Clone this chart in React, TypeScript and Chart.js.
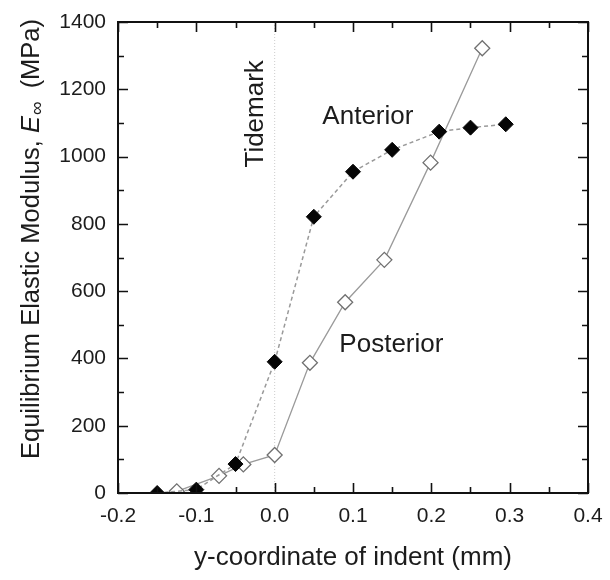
import React, { useEffect, useRef } from "react";
import { Chart, registerables } from "chart.js";

Chart.register(...registerables);

// ---- data ----
const anteriorX = [-0.15, -0.1, -0.05, 0.0, 0.05, 0.1, 0.15, 0.21, 0.25, 0.295];
const anteriorY = [0, 10, 86, 390, 821, 955, 1020, 1074, 1086, 1096];
const posteriorX = [-0.125, -0.071, -0.04, 0.0, 0.045, 0.09, 0.14, 0.199, 0.265];
const posteriorY = [5, 51, 85, 113, 387, 567, 693, 982, 1322];

const xMajorTicks = [-0.2, -0.1, 0.0, 0.1, 0.2, 0.3, 0.4];
const xMinorTicks = [-0.15, -0.05, 0.05, 0.15, 0.25, 0.35];
const yMajorTicks = [0, 200, 400, 600, 800, 1000, 1200, 1400];
const yMinorTicks = [100, 300, 500, 700, 900, 1100, 1300];

const tidemarkX = 0.0;
const annotationTexts = ["Anterior", "Posterior", "Tidemark"];
const annotationX = [0.119, 0.149, -0.024];
const annotationY = [1118, 440, 1127];
const annotationRotated = [false, false, true];

const xTitle = "y-coordinate of indent (mm)";
const yTitleMain = "Equilibrium Elastic Modulus, ";
const yTitleSymbol = "E";
const yTitleSub = "\u221E";
const yTitleUnit = "  (MPa)";

const FONT = "'Liberation Sans', Arial, Helvetica, sans-serif";
const TEXT = "#1c1c1c";

const decorPlugin = {
  id: "decor",
  beforeDatasetsDraw(chart: any) {
    const { ctx, chartArea, scales } = chart;
    const px = scales.x.getPixelForValue(tidemarkX);
    ctx.save();
    ctx.strokeStyle = "#cccccc";
    ctx.lineWidth = 1;
    ctx.setLineDash([1, 2]);
    ctx.beginPath();
    ctx.moveTo(px, chartArea.top);
    ctx.lineTo(px, chartArea.bottom);
    ctx.stroke();
    ctx.restore();
  },
  afterDatasetsDraw(chart: any) {
    const { ctx, chartArea, scales } = chart;
    const { left, right, top, bottom } = chartArea;
    const xs = scales.x;
    const ys = scales.y;
    ctx.save();
    ctx.strokeStyle = "#111";
    ctx.lineWidth = 1.6;
    ctx.setLineDash([]);
    const drawX = (vals: number[], len: number) => {
      vals.forEach((v) => {
        const p = Math.round(xs.getPixelForValue(v)) + 0.5;
        ctx.beginPath();
        ctx.moveTo(p, bottom);
        ctx.lineTo(p, bottom - len);
        ctx.moveTo(p, top);
        ctx.lineTo(p, top + len);
        ctx.stroke();
      });
    };
    const drawY = (vals: number[], len: number) => {
      vals.forEach((v) => {
        const p = Math.round(ys.getPixelForValue(v)) + 0.5;
        ctx.beginPath();
        ctx.moveTo(left, p);
        ctx.lineTo(left + len, p);
        ctx.moveTo(right, p);
        ctx.lineTo(right - len, p);
        ctx.stroke();
      });
    };
    drawX(xMajorTicks, 10);
    drawX(xMinorTicks, 6);
    drawY(yMajorTicks, 10);
    drawY(yMinorTicks, 6);
    ctx.lineWidth = 2;
    ctx.strokeRect(left, top, right - left, bottom - top);

    ctx.fillStyle = TEXT;
    ctx.font = `26px ${FONT}`;
    ctx.textAlign = "center";
    ctx.textBaseline = "middle";
    annotationTexts.forEach((t, i) => {
      const ax = xs.getPixelForValue(annotationX[i]);
      const ay = ys.getPixelForValue(annotationY[i]);
      ctx.save();
      ctx.translate(ax, ay);
      if (annotationRotated[i]) ctx.rotate(-Math.PI / 2);
      ctx.fillText(t, 0, 0);
      ctx.restore();
    });

    const mainFont = `25.5px ${FONT}`;
    const italFont = `italic 25.5px ${FONT}`;
    const subFont = `19px ${FONT}`;
    ctx.font = mainFont;
    const w1 = ctx.measureText(yTitleMain).width;
    const w4 = ctx.measureText(yTitleUnit).width;
    ctx.font = italFont;
    const w2 = ctx.measureText(yTitleSymbol).width;
    ctx.font = subFont;
    const w3 = ctx.measureText(yTitleSub).width;
    const total = w1 + w2 + w3 + w4;
    ctx.save();
    ctx.translate(30, 239);
    ctx.rotate(-Math.PI / 2);
    ctx.textAlign = "left";
    ctx.textBaseline = "alphabetic";
    let cx = -total / 2;
    const base = 9;
    ctx.font = mainFont;
    ctx.fillText(yTitleMain, cx, base);
    cx += w1;
    ctx.font = italFont;
    ctx.fillText(yTitleSymbol, cx, base);
    cx += w2;
    ctx.font = subFont;
    ctx.fillText(yTitleSub, cx + 1, base + 4);
    cx += w3;
    ctx.font = mainFont;
    ctx.fillText(yTitleUnit, cx, base);
    ctx.restore();

    ctx.restore();
  },
};

export default function App() {
  const ref = useRef<HTMLCanvasElement | null>(null);

  useEffect(() => {
    if (!ref.current) return;
    const anterior = anteriorX.map((x, i) => ({ x, y: anteriorY[i] }));
    const posterior = posteriorX.map((x, i) => ({ x, y: posteriorY[i] }));
    const chart = new Chart(ref.current, {
      type: "scatter",
      data: {
        datasets: [
          {
            label: "Anterior",
            data: anterior,
            showLine: true,
            borderColor: "#9a9a9a",
            borderWidth: 1.5,
            borderDash: [4, 3],
            pointStyle: "rectRot",
            pointRadius: 7.5,
            pointBackgroundColor: "#050505",
            pointBorderColor: "#050505",
            pointBorderWidth: 1,
          },
          {
            label: "Posterior",
            data: posterior,
            showLine: true,
            borderColor: "#9a9a9a",
            borderWidth: 1.3,
            pointStyle: "rectRot",
            pointRadius: 7.5,
            pointBackgroundColor: "#ffffff",
            pointBorderColor: "#707070",
            pointBorderWidth: 1.3,
          },
        ],
      },
      options: {
        responsive: false,
        animation: false,
        layout: { padding: { top: 22, right: 22, left: 0, bottom: 0 } },
        plugins: {
          legend: { display: false },
          tooltip: { enabled: false },
        },
        scales: {
          x: {
            type: "linear",
            min: -0.2,
            max: 0.4,
            grid: { display: false, drawTicks: false },
            border: { display: false },
            afterFit: (s: any) => {
              s.height = 87;
              s.paddingLeft = 0;
              s.paddingRight = 0;
            },
            afterBuildTicks: (s: any) => {
              s.ticks = xMajorTicks.map((v) => ({ value: v }));
            },
            ticks: {
              padding: 11,
              color: TEXT,
              font: { family: FONT, size: 21 },
              maxRotation: 0,
              callback: (v: any) => {
                const n = Number(v);
                return Math.abs(n) < 1e-9 ? "0.0" : n.toFixed(1);
              },
            },
            title: {
              display: true,
              text: xTitle,
              color: TEXT,
              font: { family: FONT, size: 26 },
              padding: { top: 0, bottom: 7 },
            },
          },
          y: {
            type: "linear",
            min: 0,
            max: 1400,
            grid: { display: false, drawTicks: false },
            border: { display: false },
            afterFit: (s: any) => {
              s.width = 118;
              s.paddingTop = 0;
              s.paddingBottom = 0;
            },
            afterBuildTicks: (s: any) => {
              s.ticks = yMajorTicks.map((v) => ({ value: v }));
            },
            ticks: {
              padding: 12,
              color: TEXT,
              font: { family: FONT, size: 21 },
              callback: (v: any) => String(v),
            },
          },
        },
      },
      plugins: [decorPlugin],
    });
    return () => chart.destroy();
  }, []);

  return (
    <div style={{ position: "fixed", left: 0, top: 0, width: 610, height: 580, background: "#fff" }}>
      <canvas ref={ref} width={610} height={580} style={{ display: "block" }} />
    </div>
  );
}
